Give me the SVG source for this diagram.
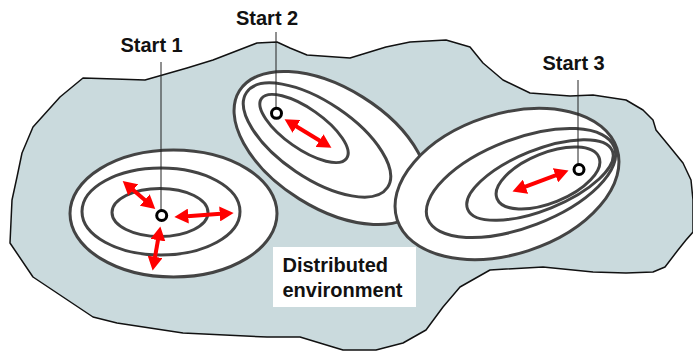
<svg xmlns="http://www.w3.org/2000/svg" width="693" height="354" viewBox="0 0 693 354">
<defs>
<style>
.ring{fill:none;stroke:#444;stroke-width:3}
.base{fill:#fff;stroke:#444;stroke-width:3}
.pin{fill:none;stroke:#222;stroke-width:1}
.dot{fill:#fff;stroke:#000;stroke-width:3}
.arr{stroke:#f00;stroke-width:4;fill:none;marker-start:url(#head);marker-end:url(#head)}
.lbl{font-family:"Liberation Sans",Arial,sans-serif;font-weight:bold;font-size:20px;fill:#111}
</style>
<marker id="head" markerUnits="userSpaceOnUse" markerWidth="14" markerHeight="15" viewBox="0 0 13 14" refX="4" refY="7" orient="auto-start-reverse">
<path d="M0,0 L13,7 L0,14 z" fill="#f00"/>
</marker>
</defs>
<rect width="693" height="354" fill="#fff"/>
<g id="environment">
<path d="M83,78 L115,79 L145,80 L187,68 L213,60 L257,43 L277,42 L290,48 L307,55 L350,58 L386,47 L410,42 L446,40 L470,47 L483,63 L503,80 L530,93 L570,96 L593,95 L626,100 L643,110 L653,120 L656,130 L670,147 L683,163 L691,180 L693,200 L693,232 L686,240 L678,250 L665,267 L653,272 L626,273 L593,272 L543,267 L490,270 L460,287 L443,307 L426,330 L403,343 L376,350 L343,350 L333,347 L300,337 L267,337 L183,333 L117,323 L93,317 L57,293 L33,277 L10,243 L12,200 L17,177 L22,153 L33,127 L60,97 Z" fill="#cadadd" stroke="#111" stroke-width="1.5" stroke-linejoin="round"/>
</g>
<g id="basin1">
<ellipse class="base" cx="173.5" cy="213.5" rx="103.5" ry="63.5"/>
<ellipse class="ring" cx="161" cy="211.5" rx="79" ry="43.5"/>
<ellipse class="ring" cx="160" cy="212.5" rx="48" ry="24"/>
</g>
<g id="basin2">
<ellipse class="base" cx="331" cy="148" rx="108" ry="60" transform="rotate(32 331 148)"/>
<ellipse class="ring" cx="317" cy="140" rx="85" ry="38" transform="rotate(34 317 140)"/>
<ellipse class="ring" cx="304" cy="128.5" rx="52" ry="20" transform="rotate(35 304 128.5)"/>
</g>
<g id="basin3">
<ellipse class="base" cx="507" cy="184" rx="115.5" ry="70" transform="rotate(-18 507 184)"/>
<ellipse class="ring" cx="521" cy="183" rx="100" ry="44" transform="rotate(-21 521 183)"/>
<ellipse class="ring" cx="540" cy="180" rx="78" ry="30" transform="rotate(-22 540 180)"/>
<ellipse class="ring" cx="548" cy="178" rx="55" ry="25" transform="rotate(-22 548 178)"/>
</g>
<g id="label-box">
<rect x="273" y="247" width="143" height="60" fill="#fff"/>
<text class="lbl" x="282.5" y="272">Distributed</text>
<text class="lbl" x="282.5" y="297">environment</text>
</g>
<g id="connectors">
<line class="pin" x1="161" y1="62" x2="161" y2="210"/>
<line class="pin" x1="276" y1="32" x2="276" y2="108"/>
<line class="pin" x1="578" y1="80" x2="578" y2="164"/>
<line class="arr" x1="130" y1="187.2" x2="148" y2="202.8"/>
<line class="arr" x1="184" y1="216.4" x2="224" y2="213.6"/>
<line class="arr" x1="158.7" y1="235.9" x2="154.3" y2="261.1"/>
<line class="arr" x1="292.8" y1="124.2" x2="323.2" y2="142.8"/>
<line class="arr" x1="521.5" y1="188.2" x2="559.5" y2="173.8"/>
</g>
<g id="start1">
<circle class="dot" cx="161.7" cy="215.5" r="5"/>
<text class="lbl" x="120.5" y="52">Start 1</text>
</g>
<g id="start2">
<circle class="dot" cx="276.5" cy="113.3" r="5"/>
<text class="lbl" x="236" y="25">Start 2</text>
</g>
<g id="start3">
<circle class="dot" cx="579" cy="169.5" r="5"/>
<text class="lbl" x="542.5" y="70">Start 3</text>
</g>
</svg>
